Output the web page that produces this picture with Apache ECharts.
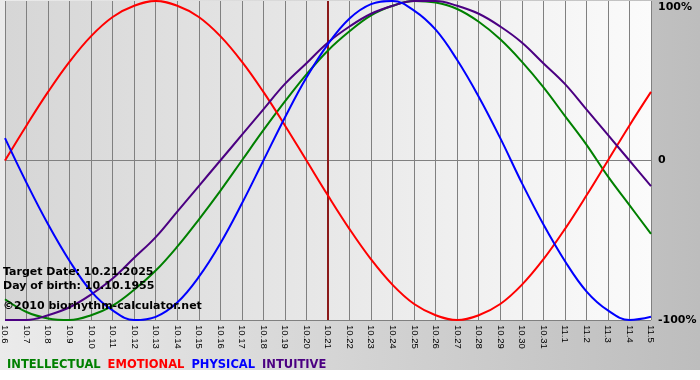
<!DOCTYPE html>
<html>
<head>
<meta charset="utf-8">
<script src="https://cdn.jsdelivr.net/npm/echarts@6/dist/echarts.min.js"></script>
<style>
html,body{margin:0;padding:0;background:#fff;}
#chart{width:700px;height:380px;
 background:
  linear-gradient(to bottom, rgba(255,255,255,0) 370px, #ffffff 370px),
  linear-gradient(to right, #ebebeb, #bdbdbd);}
</style>
</head>
<body>
<div id="chart"></div>
<script>
// Days shown (month.day)
const categories = ['10.6','10.7','10.8','10.9','10.10','10.11','10.12','10.13','10.14','10.15','10.16','10.17','10.18','10.19','10.20','10.21','10.22','10.23','10.24','10.25','10.26','10.27','10.28','10.29','10.30','10.31','11.1','11.2','11.3','11.4','11.5'];
// Values in percent
const intellectual = [-87,-95,-99,-100,-97,-91,-81,-69,-54,-37,-19,0,19,37,54,69,81,91,97,100,99,95,87,76,62,46,28,10,-10,-28,-46];
const emotional    = [0,22,43,62,78,90,97,100,97,90,78,62,43,22,0,-22,-43,-62,-78,-90,-97,-100,-97,-90,-78,-62,-43,-22,0,22,43];
const physical     = [14,-14,-40,-63,-82,-94,-100,-98,-89,-73,-52,-27,0,27,52,73,89,98,100,94,82,63,40,14,-14,-40,-63,-82,-94,-100,-98];
const intuitive    = [-100,-100,-97,-92,-84,-74,-61,-48,-32,-16,0,16,32,48,61,74,84,92,97,100,100,97,92,84,74,61,48,32,16,0,-16];
const seriesNames  = ['INTELLECTUAL','EMOTIONAL','PHYSICAL','INTUITIVE'];
const seriesColors = ['#008000','#ff0000','#0000ff','#4b0082'];
const yTickLabels  = {'100':'100%','0':'0','-100':'-100%'};
const targetDay    = '10.21';
const infoLines    = ['Target Date: 10.21.2025','Day of birth: 10.10.1955','\u00a92010 biorhythm-calculator.net'];

const chart = echarts.init(document.getElementById('chart'), null, {renderer:'canvas'});
const values = [intellectual, emotional, physical, intuitive];
const order = [0,1,3,2];
const series = order.map((i, k) => ({
  name: seriesNames[i],
  type: 'line',
  data: values[i],
  smooth: 0.4,
  showSymbol: false,
  z: 3 + k,
  lineStyle: {color: seriesColors[i], width: 2},
  itemStyle: {color: seriesColors[i]},
  emphasis: {disabled: true},
  markLine: k === 0 ? {
    silent: true, symbol: ['none','none'], label: {show:false},
    lineStyle: {color:'#8b1a1a', width:2, type:'solid'},
    data: [{xAxis: targetDay}], z: 1
  } : undefined
}));

const option = {
  animation: false,
  backgroundColor: 'transparent',
  grid: {
    left: 1, right: 49, top: 1, bottom: 60,
    show: true, borderWidth: 0,
    backgroundColor: new echarts.graphic.LinearGradient(0,0,1,0,[
      {offset:0, color:'#d6d6d6'},{offset:0.5,color:'#e8e8e8'},{offset:1, color:'#fbfbfb'}])
  },
  legend: {
    left: -3, top: 354, icon: 'none', itemWidth: 0, itemHeight: 10, itemGap: 2,
    selectedMode: false,
    data: seriesNames.map((n,i) => ({name:n, textStyle:{color: seriesColors[i]}})),
    textStyle: {fontFamily:'DejaVu Sans', fontWeight:'bold', fontSize:11.5}
  },
  xAxis: {
    type: 'category', data: categories, boundaryGap: false,
    axisLine: {show: true, lineStyle:{color:'#808080', width:1}},
    axisTick: {show: true, length: 3, interval: 0, lineStyle:{color:'#808080'}},
    splitLine: {show: true, interval: 0, lineStyle:{color:'#808080', width:1}},
    axisLabel: {interval: 0, rotate: -90, margin: 5, color:'#000',
      fontFamily:'Liberation Sans', fontSize: 9.5}
  },
  yAxis: {
    type: 'value', position: 'right', min: -100, max: 100, interval: 100,
    axisLine: {show:false}, axisTick: {show:false},
    splitLine: {show:true, lineStyle:{color:['#808080','#808080','rgba(0,0,0,0)'], width:1}},
    axisLabel: {
      margin: 7, color:'#000', fontFamily:'DejaVu Sans', fontWeight:'bold', fontSize: 11,
      formatter: v => v === 100 ? '{t|' + yTickLabels[String(v)] + '}' : yTickLabels[String(v)],
      rich: {t: {padding:[13,0,0,0], fontFamily:'DejaVu Sans', fontWeight:'bold', fontSize:11, color:'#000'}}
    }
  },
  graphic: infoLines.map((t, i) => ({
    type: 'text', left: 3, top: [267, 281, 301][i], z: 100, silent: true,
    style: {text: t, fill:'#000', font:'bold 11px "DejaVu Sans"'}
  })),
  series: series
};
chart.setOption(option);
</script>
</body>
</html>
